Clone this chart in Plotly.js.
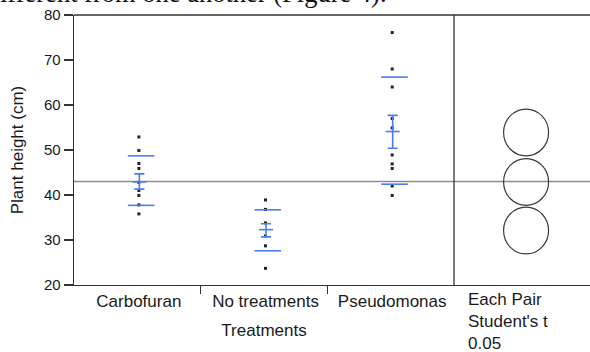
<!DOCTYPE html>
<html>
<head>
<meta charset="utf-8">
<script src="https://cdn.plot.ly/plotly-3.0.1.min.js"></script>
<style>html,body{margin:0;padding:0;background:#fff;}#chart{width:590px;height:352px;}</style>
</head>
<body>
<div id="chart"></div>
<script>
// ---- data ----
const categories = ['Carbofuran', 'No treatments', 'Pseudomonas'];
const carbofuran = [52.9, 49.9, 47.0, 45.9, 42.8, 41.0, 39.9, 37.8, 35.8];
const noTreatments = [38.9, 36.8, 33.8, 30.9, 28.7, 23.7];
const pseudomonas = [76.1, 68.0, 64.0, 57.0, 54.9, 48.9, 46.9, 45.9, 42.0, 39.9];
const groupMeans = [42.9, 32.3, 54.1];
const meanErrUpper = [44.7, 33.6, 57.7];
const meanErrLower = [41.3, 30.7, 50.4];
const sdUpper = [48.7, 36.7, 66.2];
const sdLower = [37.7, 27.6, 42.4];
const grandMean = 43.0;
const circleCenters = [53.9, 42.9, 32.1];
const circleRadius = [5.2, 5.2, 5.2];
const yTicks = [20, 30, 40, 50, 60, 70, 80];
const compLabel = ['Each Pair', "Student's t", '0.05'];
const clippedText = 'ifferent from one another (Figure 4).';

// ---- style ----
const BLUE = '#4a7cf2';
const FRAME = '#333333';
const FONT = 'Liberation Sans, Arial, sans-serif';
const W = 590, L = 74, SPLIT = 454;
const mainFrac = (SPLIT - L) / (W - L);
const dotOff = 0.012, errOff = 0.016, sdOff = 0.03;

const groups = [carbofuran, noTreatments, pseudomonas];
const traces = [];

groups.forEach((vals, i) => {
  traces.push({
    type: 'scatter', mode: 'markers', xaxis: 'x', yaxis: 'y',
    x: vals.map(() => i + 0.5 + dotOff), y: vals,
    marker: {color: '#222', size: 3, symbol: 'square'},
    hoverinfo: 'y', showlegend: false
  });
});

// standard deviation lines
traces.push({
  type: 'scatter', mode: 'markers', xaxis: 'x', yaxis: 'y',
  x: categories.map((c, i) => i + 0.5 + sdOff).concat(categories.map((c, i) => i + 0.5 + sdOff)),
  y: sdUpper.concat(sdLower),
  marker: {symbol: 'line-ew', size: 19, line: {color: BLUE, width: 1.6}},
  showlegend: false
});

// mean with error bars
traces.push({
  type: 'scatter', mode: 'markers', xaxis: 'x', yaxis: 'y',
  x: categories.map((c, i) => i + 0.5 + errOff), y: groupMeans,
  marker: {symbol: 'line-ew', size: 10, line: {color: BLUE, width: 1.6}},
  error_y: {
    type: 'data', symmetric: false,
    array: meanErrUpper.map((v, i) => v - groupMeans[i]),
    arrayminus: groupMeans.map((m, i) => m - meanErrLower[i]),
    color: BLUE, thickness: 1.6, width: 5
  },
  showlegend: false
});

// dummy trace for second x axis
traces.push({type: 'scatter', mode: 'markers', xaxis: 'x2', yaxis: 'y', x: [0.5], y: [grandMean],
  marker: {opacity: 0}, hoverinfo: 'skip', showlegend: false});

const shapes = [
  {type: 'line', xref: 'paper', yref: 'paper', x0: 0, x1: 1, y0: 1, y1: 1, line: {color: FRAME, width: 1.3}},
  {type: 'line', xref: 'paper', yref: 'paper', x0: mainFrac, x1: mainFrac, y0: 0, y1: 1, line: {color: FRAME, width: 1.3}},
  {type: 'line', xref: 'paper', yref: 'y', x0: 0, x1: 1, y0: grandMean, y1: grandMean, line: {color: '#8c8c8c', width: 1.3}, layer: 'below'}
];
circleCenters.forEach((c, i) => {
  shapes.push({type: 'circle', xref: 'x2', yref: 'y', xsizemode: 'pixel', xanchor: 0.53,
    x0: -22.5, x1: 22.5, y0: c - circleRadius[i], y1: c + circleRadius[i],
    line: {color: '#3a3a3a', width: 1.2}});
});

const layout = {
  width: 590, height: 352,
  margin: {l: L, r: 0, t: 15, b: 67},
  paper_bgcolor: '#fff', plot_bgcolor: '#fff',
  font: {family: FONT, color: '#1a1a1a'},
  showlegend: false,
  xaxis: {
    domain: [0, mainFrac], range: [0, 3],
    tickvals: categories.map((c, i) => i + 0.5 + dotOff), ticktext: categories,
    ticks: '', showgrid: false, zeroline: false,
    showline: true, linecolor: FRAME, linewidth: 1.3,
    tickfont: {size: 17, family: FONT, color: '#1a1a1a'},
    minor: {tickvals: [1, 2], ticks: 'outside', ticklen: 8, tickcolor: FRAME, tickwidth: 1.3, showgrid: false},
    title: {text: 'Treatments', font: {size: 17, family: FONT, color: '#1a1a1a'}, standoff: 14}
  },
  xaxis2: {
    domain: [mainFrac, 1], range: [0, 1], anchor: 'y',
    showticklabels: false, ticks: '', showgrid: false, zeroline: false,
    showline: true, linecolor: FRAME, linewidth: 1.3
  },
  yaxis: {
    range: [20, 80], tickvals: yTicks, ticktext: yTicks.map(String),
    ticks: 'outside', ticklen: 9, tickcolor: FRAME, tickwidth: 1.3,
    showline: true, linecolor: FRAME, linewidth: 1.3,
    showgrid: false, zeroline: false,
    tickfont: {size: 15, family: FONT, color: '#1a1a1a'},
    title: {text: 'Plant height (cm)', font: {size: 17, family: FONT, color: '#1a1a1a'}, standoff: 16}
  },
  shapes: shapes,
  annotations: [
    {xref: 'paper', yref: 'paper', x: (466 - L) / (W - L), y: -0.012, xanchor: 'left', yanchor: 'top',
     text: compLabel.join('<br>'), align: 'left', showarrow: false,
     font: {size: 17, family: FONT, color: '#1a1a1a'}},
    {xref: 'paper', yref: 'paper', x: (-1 - L) / (W - L), y: 1.082, xanchor: 'left', yanchor: 'middle',
     text: clippedText, showarrow: false, borderpad: 0,
     font: {size: 26.5, family: 'Liberation Serif, Times New Roman, serif', color: '#111'}}
  ]
};

Plotly.newPlot('chart', traces, layout, {staticPlot: true, displayModeBar: false});
</script>
</body>
</html>
